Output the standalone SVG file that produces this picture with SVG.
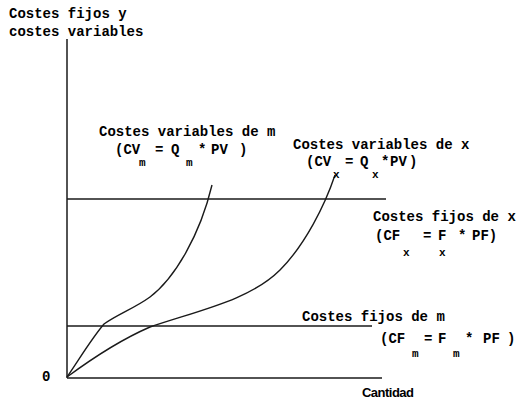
<svg xmlns="http://www.w3.org/2000/svg" width="518" height="401" viewBox="0 0 518 401">
<style>
text{font-family:"Liberation Mono","DejaVu Sans Mono",monospace;font-weight:bold;font-size:14px;fill:#000}
.sub{font-size:11px}
.ln{stroke:#1a1a1a;stroke-width:1.4;fill:none}
.ax{stroke:#1a1a1a;stroke-width:1.5;fill:none}
</style>
<rect width="518" height="401" fill="#fff"/>
<g id="axes">
<line class="ax" x1="67" y1="39" x2="67" y2="378"/>
<line class="ax" x1="67" y1="378" x2="382" y2="378"/>
<text x="9" y="18">Costes fijos y</text>
<text x="9" y="36">costes variables</text>
<text x="42" y="381">0</text>
<text x="362" y="397" style="font-family:'Liberation Sans',Arial,sans-serif;font-size:13px" textLength="52">Cantidad</text>
</g>
<g id="fixed-x">
<line class="ln" x1="67" y1="199" x2="386" y2="199"/>
<text x="373" y="221">Costes fijos de x</text>
<text y="240"><tspan x="375">(CF</tspan><tspan x="423">=</tspan><tspan x="438">F</tspan><tspan x="458">*</tspan><tspan x="472">PF)</tspan></text>
<text class="sub" y="256"><tspan x="403">x</tspan><tspan x="439">x</tspan></text>
</g>
<g id="fixed-m">
<line class="ln" x1="67" y1="326" x2="372" y2="326"/>
<text x="302" y="321">Costes fijos de m</text>
<text y="343"><tspan x="380">(CF</tspan><tspan x="424">=</tspan><tspan x="438">F</tspan><tspan x="465">*</tspan><tspan x="483">PF</tspan><tspan x="507">)</tspan></text>
<text class="sub" y="357"><tspan x="412">m</tspan><tspan x="453">m</tspan></text>
</g>
<g id="var-m">
<path class="ln" d="M67,377 C80,358 92,338 104,324 C118,314 135,308 150,297 C175,278 200,235 212,185"/>
<text x="99" y="136">Costes variables de m</text>
<text y="154"><tspan x="115">(CV</tspan><tspan x="155">=</tspan><tspan x="171">Q</tspan><tspan x="198">*</tspan><tspan x="211">PV</tspan><tspan x="239">)</tspan></text>
<text class="sub" y="166"><tspan x="139">m</tspan><tspan x="186">m</tspan></text>
</g>
<g id="var-x">
<path class="ln" d="M67,377 C90,360 120,340 150,327 C200,310 250,300 280,270 C305,245 325,205 335,175"/>
<text x="293" y="149">Costes variables de x</text>
<text y="166"><tspan x="306">(CV</tspan><tspan x="345">=</tspan><tspan x="360">Q</tspan><tspan x="381">*</tspan><tspan x="390">PV</tspan><tspan x="409">)</tspan></text>
<text class="sub" y="178"><tspan x="333">x</tspan><tspan x="372">x</tspan></text>
</g>
</svg>
